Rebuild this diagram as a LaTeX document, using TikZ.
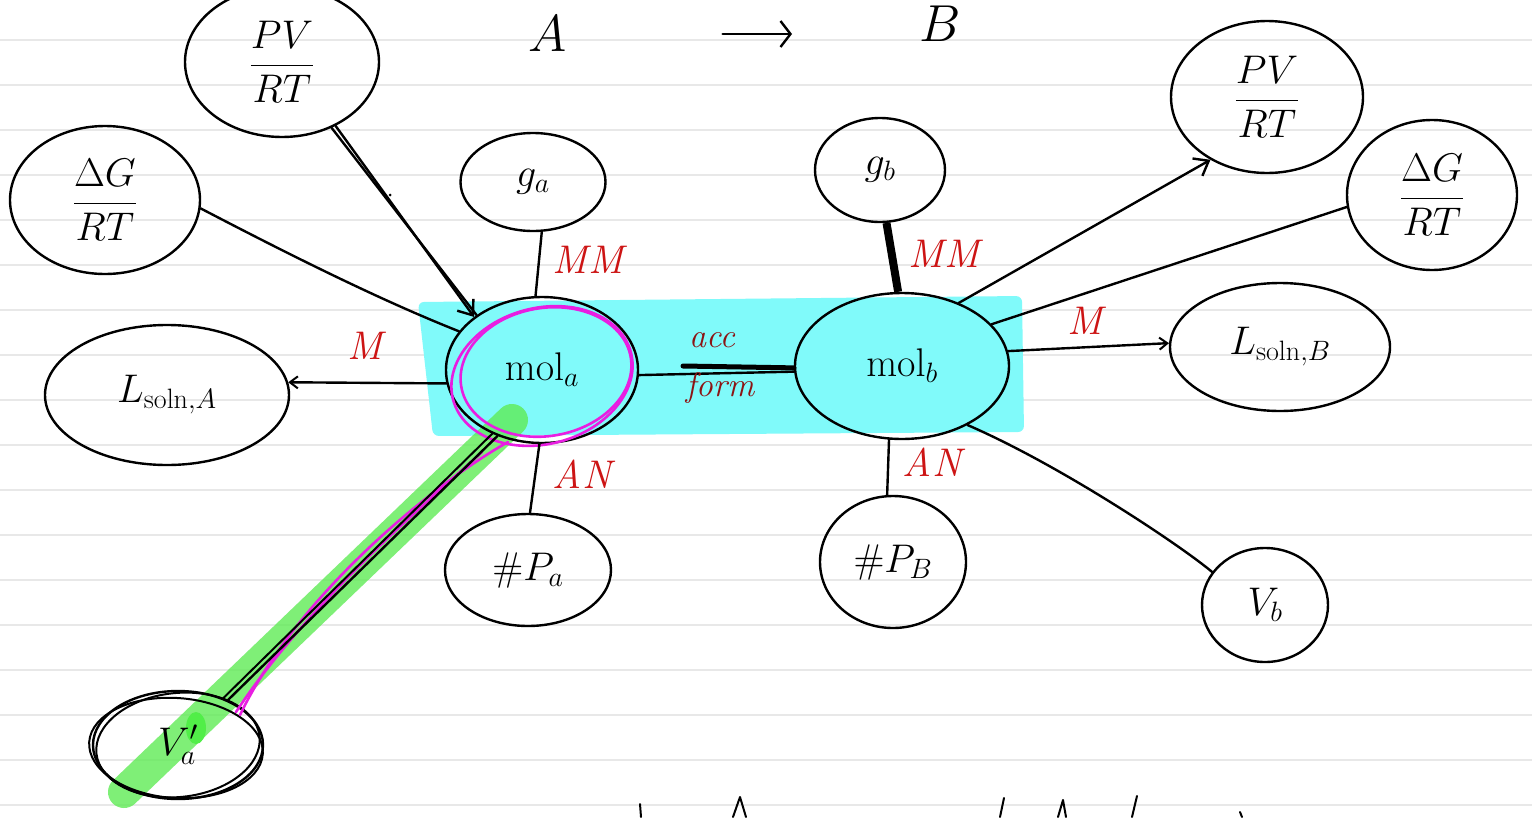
\RequirePackage{fix-cm}
\documentclass[tikz,border=0pt]{standalone}
\usepackage{amsmath}
\usetikzlibrary{shapes.geometric,arrows.meta}
\definecolor{redink}{RGB}{205,20,20}
\definecolor{darkredink}{RGB}{140,20,20}
\definecolor{cyanhl}{RGB}{128,250,250}
\definecolor{greenhl}{RGB}{95,235,85}
\definecolor{pinkink}{RGB}{232,30,225}
\definecolor{ruleline}{RGB}{232,232,232}
\begin{document}
\begin{tikzpicture}[x=1pt,y=-1pt,
  ink/.style={line width=2.4pt, line cap=round, line join=round, draw=black},
  bub/.style 2 args={ellipse, ink, minimum width=#1, minimum height=#2,
    inner sep=0pt, font=\fontsize{40}{44}\selectfont},
  harrow/.style={ink, -{Straight Barb[length=13pt,width=20pt,line width=2.4pt]}},
  sarrow/.style={ink, -{Straight Barb[length=8pt,width=12pt,line width=2pt]}},
  tag/.style={text=redink, font=\fontsize{40}{44}\selectfont\itshape},
  note/.style={text=darkredink, font=\fontsize{34}{36}\selectfont\itshape},
  head/.style={font=\fontsize{52}{56}\selectfont},
  rule/.style={draw=ruleline, line width=2pt},
  pink/.style={draw=pinkink, line width=2.6pt, line cap=round}
]
% page and ruled lines
\fill[white] (0,0) rectangle (1532,817);
\useasboundingbox (0,0) rectangle (1532,817);
\foreach \y in {40,85,...,805} \draw[rule] (0,\y) -- (1532,\y);

% cyan highlight behind the two mole nodes
\fill[cyanhl, rounded corners=6pt] (418,302) -- (1022,296) -- (1024,432) -- (433,436) -- cycle;

% green highlight along the volume link
\draw[greenhl, line width=32pt, line cap=round, opacity=.8] (512,420) -- (124,792);
\fill[greenhl!85!green] (196,728) ellipse [x radius=10, y radius=16];

% heading
\node[head] (tA) at (548,34) {$A$};
\node[head] (tB) at (940,24) {$B$};
\draw[ink, -{Straight Barb[length=10pt,width=26pt,line width=2.4pt]}, shorten <=152pt, shorten >=148pt] (tA) -- (tB |- tA);

% quantity nodes
\node[bub={194}{150}] (pvA) at (282,62) {$\dfrac{PV}{RT}$};
\node[bub={190}{148}] (dgA) at (105,200) {$\dfrac{\Delta G}{RT}$};
\node[bub={244}{140}] (lsA) at (167,395) {$L_{\mathrm{soln},A}$};
\node[bub={145}{98}] (gA) at (533,182) {$g_a$};
\node[bub={192}{146}] (molA) at (542,370) {$\mathrm{mol}_a$};
\node[bub={166}{112}] (pA) at (528,570) {$\#P_a$};
\node[bub={170}{108}] (vA) at (178,745) {$V_a'$};
\node[bub={130}{104}] (gB) at (880,170) {$g_b$};
\node[bub={214}{146}] (molB) at (902,366) {$\mathrm{mol}_b$};
\node[bub={146}{132}] (pB) at (893,562) {$\#P_B$};
\node[bub={192}{152}] (pvB) at (1267,97) {$\dfrac{PV}{RT}$};
\node[bub={170}{150}] (dgB) at (1432,195) {$\dfrac{\Delta G}{RT}$};
\node[bub={220}{128}] (lsB) at (1280,347) {$L_{\mathrm{soln},B}$};
\node[bub={126}{114}] (vB) at (1265,605) {$V_b$};

% extra pen loops round the volume node
\draw[ink, line width=2pt] (178,745) ellipse [x radius=82, y radius=52, rotate=6];
\draw[ink, line width=2pt] (176,748) ellipse [x radius=87, y radius=50, rotate=-4];

% pink circling of mol_a and its tail
\draw[pink] (542,376) ellipse [x radius=92, y radius=68, rotate=15];
\draw[pink] (546,372) ellipse [x radius=86, y radius=64, rotate=10];
\draw[pink] (508,442) .. controls (440,480) and (300,590) .. (240,715);
\draw[pink] (482,452) .. controls (430,500) and (310,600) .. (236,712);

% connectors on the A side
\draw[harrow] (pvA.-50) -- (molA.142);
\draw[ink] (pvA.-53) -- (molA.140);
\draw[ink] (dgA.-5) .. controls (290,255) and (380,300) .. (molA.155);
\draw[sarrow] (molA.188) -- (lsA.6);
\draw[ink] (gA.-80) -- (molA.95);
\draw[ink] (molA.-92) -- (pA.88);
\draw[ink] (molA.236) -- (vA.42);
\draw[ink, line width=2pt] (molA.232) -- (vA.46);

% link between the two mole nodes
\draw[ink] (molA.-3) -- (molB.183);
\draw[ink, line width=5pt] (683,366) -- (molB.181);

% connectors on the B side
\draw[ink, line width=8pt, line cap=butt] (gB.-83) -- (molB.93);
\draw[ink] (molB.-100) -- (pB.95);
\draw[harrow] (molB.48) -- (pvB.-132);
\draw[ink] (molB.25) -- (dgB.188);
\draw[sarrow] (molB.8) -- (lsB.178);
\draw[ink] (molB.-42) .. controls (1060,465) and (1180,545) .. (vB.148);

% relation tags
\node[tag] (m1) at (365,346) {M};
\node[tag] (mm1) at (588,260) {MM};
\node[tag] (an1) at (582,474) {AN};
\node[note] (acc) at (712,340) {acc};
\node[note] (form) at (720,388) {form};
\node[tag] (mm2) at (944,254) {MM};
\node[tag] (an2) at (932,462) {AN};
\node[tag] (m2) at (1085,321) {M};

% stray pen marks
\fill (390,195) circle (1.5);
\draw[ink, line width=2pt] (640,804) -- (641,817);
\draw[ink, line width=2pt] (733,817) -- (740,797) -- (746,817);
\draw[ink, line width=2pt] (1000,817) -- (1004,798);
\draw[ink, line width=2pt] (1058,817) -- (1063,800) -- (1066,817);
\draw[ink, line width=2pt] (1132,817) -- (1137,796);
\draw[ink, line width=2pt] (1240,812) -- (1242,817);
\end{tikzpicture}
\end{document}
